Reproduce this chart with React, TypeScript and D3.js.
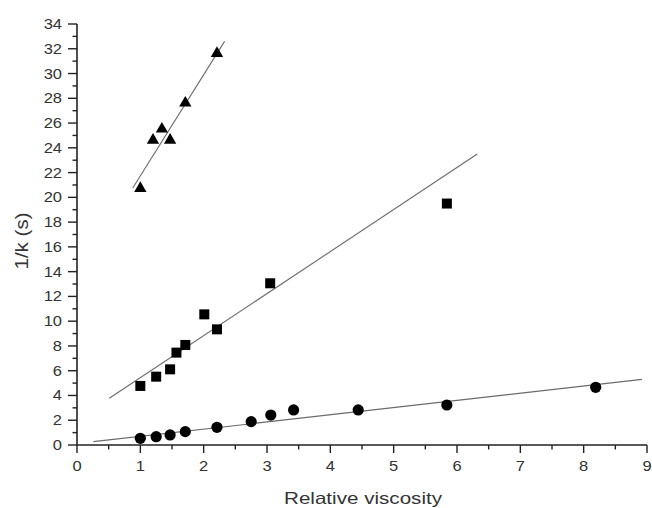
import React from "react";
import * as d3 from "d3";

// Data
const triangleX = [1.0, 1.2, 1.34, 1.47, 1.71, 2.21];
const triangleY = [20.8, 24.7, 25.6, 24.7, 27.7, 31.7];
const squareX = [1.0, 1.25, 1.47, 1.57, 1.71, 2.01, 2.21, 3.05, 5.84];
const squareY = [4.77, 5.52, 6.11, 7.46, 8.08, 10.55, 9.34, 13.06, 19.5];
const circleX = [1.0, 1.25, 1.47, 1.71, 2.21, 2.75, 3.06, 3.42, 4.44, 5.84, 8.19];
const circleY = [0.54, 0.67, 0.81, 1.08, 1.43, 1.89, 2.42, 2.83, 2.83, 3.23, 4.66];
// fitted lines: [x0, y0, x1, y1]
const triangleFit = [0.88, 20.76, 2.33, 32.6];
const squareFit = [0.51, 3.77, 6.32, 23.5];
const circleFit = [0.26, 0.27, 8.92, 5.3];
const xTicks = [0, 1, 2, 3, 4, 5, 6, 7, 8, 9];
const yTicks = [0, 2, 4, 6, 8, 10, 12, 14, 16, 18, 20, 22, 24, 26, 28, 30, 32, 34];
const xLabel = "Relative viscosity";
const yLabel = "1/k (s)";

const W = 652;
const H = 508;

export default function App() {
  const x = d3.scaleLinear().domain([0, 9]).range([77, 647]);
  const y = d3.scaleLinear().domain([0, 34]).range([445, 24]);
  const xMinor = d3.range(0, 9.001, 0.5);
  const yMinor = d3.range(0, 34.001, 1);
  const axisColor = "#222";
  const textColor = "#333";
  const font = "Liberation Sans, Arial, sans-serif";

  const line = d3
    .line<[number, number]>()
    .x((d) => x(d[0]))
    .y((d) => y(d[1]));
  const fitPath = (f: number[]) =>
    line([
      [f[0], f[1]],
      [f[2], f[3]],
    ]) || "";

  const tri = d3.symbol().type(d3.symbolTriangle).size(66)() || "";

  return (
    <svg
      width={W}
      height={H}
      style={{ position: "absolute", left: 0, top: 0, background: "#fff" }}
      fontFamily={font}
    >
      <rect width={W} height={H} fill="#fff" />
      {/* fit lines */}
      {[triangleFit, squareFit, circleFit].map((f, i) => (
        <path key={i} d={fitPath(f)} stroke="#6a6a6a" strokeWidth={1.1} fill="none" />
      ))}
      {/* axes */}
      <line x1={x(0)} x2={x(9)} y1={y(0)} y2={y(0)} stroke={axisColor} strokeWidth={1.6} />
      <line x1={x(0)} x2={x(0)} y1={y(0)} y2={y(34)} stroke={axisColor} strokeWidth={1.6} />
      {xMinor.map((v) => {
        const major = Math.abs(v - Math.round(v)) < 1e-6;
        return (
          <line
            key={"xt" + v}
            x1={x(v)}
            x2={x(v)}
            y1={y(0)}
            y2={y(0) + (major ? 8 : 4.5)}
            stroke={axisColor}
            strokeWidth={1.4}
          />
        );
      })}
      {yMinor.map((v) => {
        const major = v % 2 === 0;
        return (
          <line
            key={"yt" + v}
            x1={x(0) - (major ? 9 : 4.5)}
            x2={x(0)}
            y1={y(v)}
            y2={y(v)}
            stroke={axisColor}
            strokeWidth={1.4}
          />
        );
      })}
      {xTicks.map((v) => (
        <g key={"xl" + v} transform={`translate(${x(v)},${471})`}>
          <text
            transform="scale(1.18,1)"
            textAnchor="middle"
            fontSize={14}
            fill={textColor}
          >
            {v}
          </text>
        </g>
      ))}
      {yTicks.map((v) => (
        <g key={"yl" + v} transform={`translate(${62},${y(v) + 5})`}>
          <text
            transform="scale(1.18,1)"
            textAnchor="end"
            fontSize={14}
            fill={textColor}
          >
            {v}
          </text>
        </g>
      ))}
      {/* axis labels */}
      <text
        x={363}
        y={504}
        textAnchor="middle"
        fontSize={16.5}
        fill={textColor}
        textLength={158}
        lengthAdjust="spacingAndGlyphs"
      >
        {xLabel}
      </text>
      <text
        transform={`translate(${28},${241}) rotate(-90)`}
        textAnchor="middle"
        fontSize={18}
        fill={textColor}
        textLength={57}
        lengthAdjust="spacingAndGlyphs"
      >
        {yLabel}
      </text>
      {/* markers */}
      {circleX.map((v, i) => (
        <circle key={"c" + i} cx={x(v)} cy={y(circleY[i])} r={5.6} fill="#000" />
      ))}
      {squareX.map((v, i) => (
        <rect
          key={"s" + i}
          x={x(v) - 5}
          y={y(squareY[i]) - 5}
          width={10}
          height={10}
          fill="#000"
        />
      ))}
      {triangleX.map((v, i) => (
        <path
          key={"t" + i}
          d={tri}
          transform={`translate(${x(v)},${y(triangleY[i]) + 1})`}
          fill="#000"
        />
      ))}
    </svg>
  );
}
